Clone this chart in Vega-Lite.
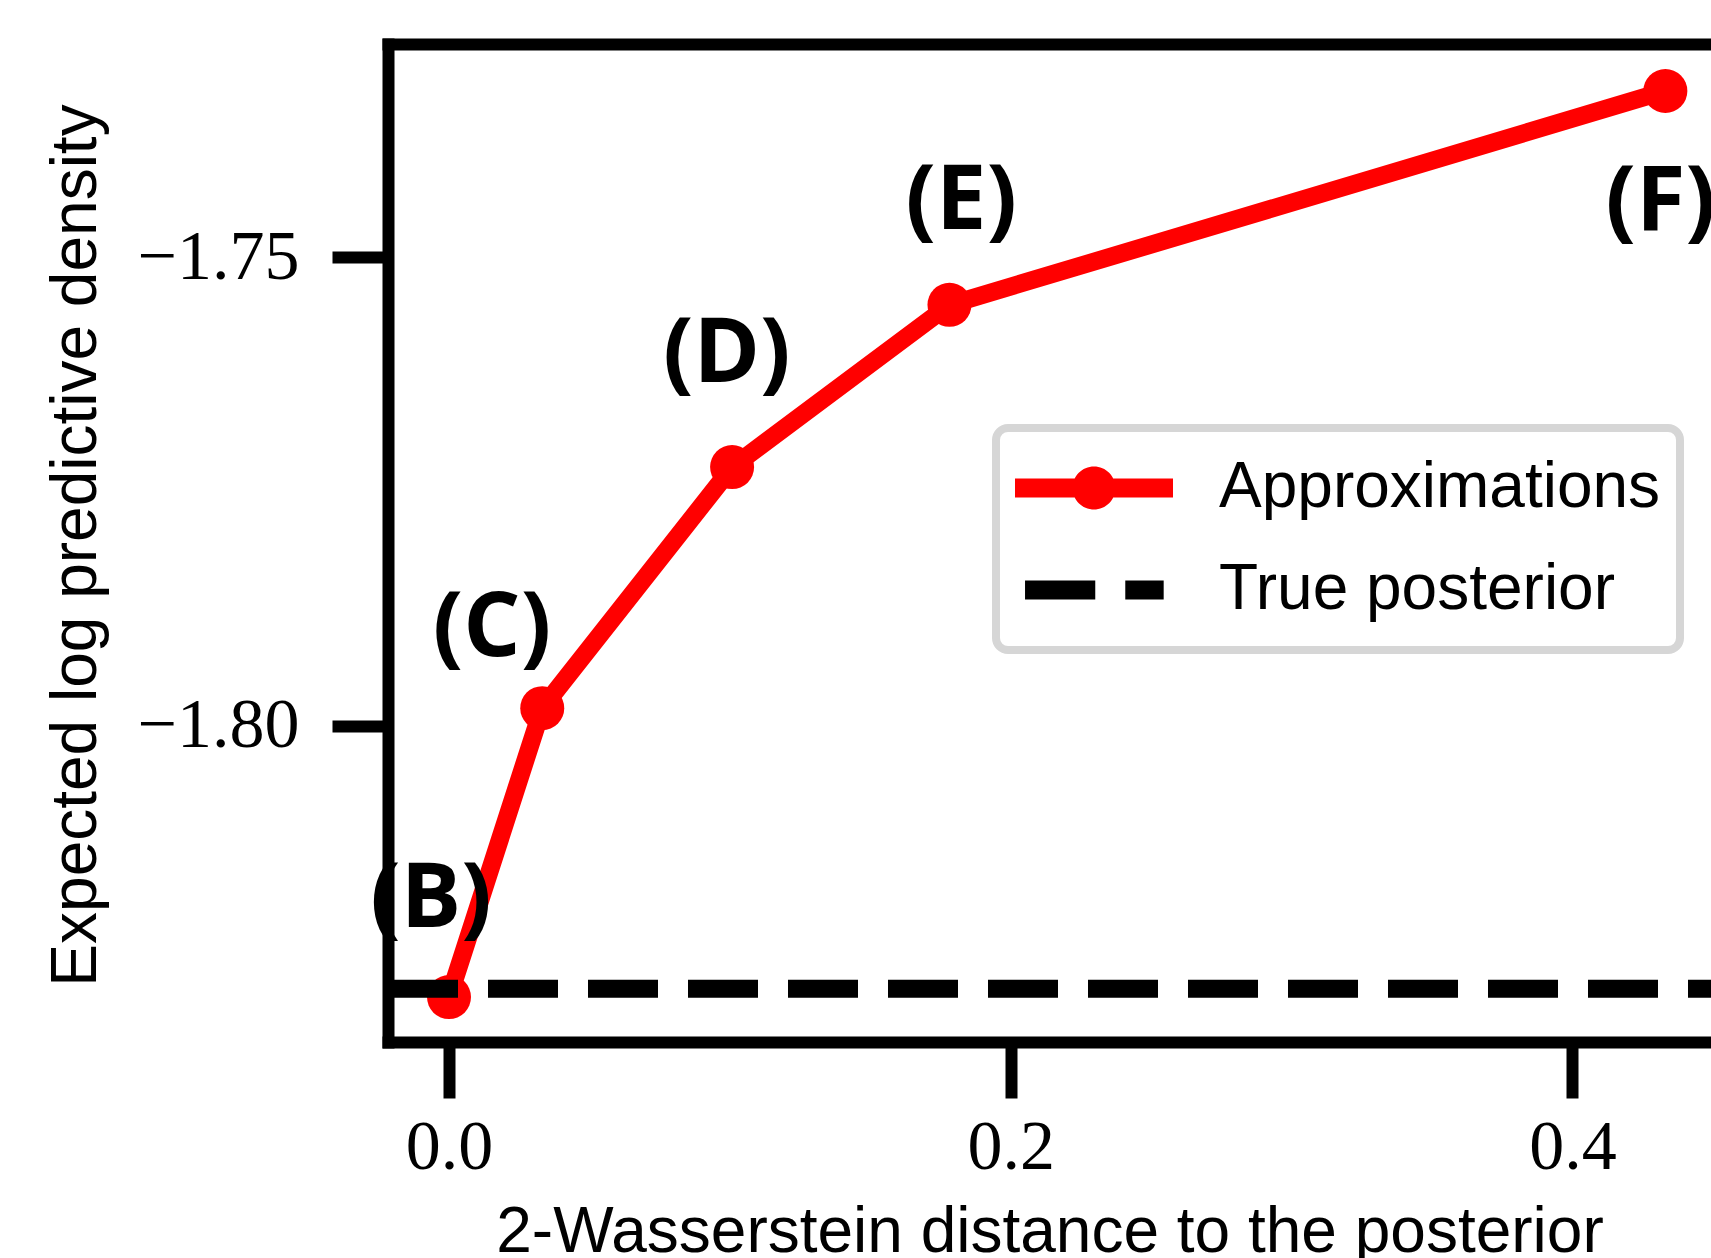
{
  "$schema": "https://vega.github.io/schema/vega-lite/v6.json",
  "autosize": {"type": "none"},
  "padding": {"left": 388, "top": 44, "right": 0, "bottom": 216},
  "width": 1323,
  "height": 998,
  "background": "white",
  "config": {"view": {"stroke": null}, "axis": {"grid": false}, "legend": {"strokeWidth": 8}},
  "resolve": {"axis": {"x": "independent", "y": "independent"}},
  "datasets": {
    "approx": [
      {"series": "Approximations", "label": "(B)", "w2": 0.0, "elpd": -1.8289, "label_w2": -0.0064, "label_elpd": -1.8186},
      {"series": "Approximations", "label": "(C)", "w2": 0.0332, "elpd": -1.7981, "label_w2": 0.0153, "label_elpd": -1.7897},
      {"series": "Approximations", "label": "(D)", "w2": 0.1008, "elpd": -1.7724, "label_w2": 0.0989, "label_elpd": -1.7604},
      {"series": "Approximations", "label": "(E)", "w2": 0.1782, "elpd": -1.7551, "label_w2": 0.1824, "label_elpd": -1.7441},
      {"series": "Approximations", "label": "(F)", "w2": 0.4331, "elpd": -1.7323, "label_w2": 0.4314, "label_elpd": -1.7442}
    ],
    "truth": [
      {"series": "True posterior", "elpd": -1.828}
    ],
    "series": [
      {"series": "Approximations"},
      {"series": "True posterior"}
    ]
  },
  "layer": [
    {
      "data": {"name": "approx"},
      "mark": {"type": "line", "color": "#ff0000", "strokeWidth": 18, "strokeJoin": "round", "strokeCap": "butt"},
      "encoding": {
        "x": {
          "field": "w2", "type": "quantitative",
          "scale": {"domain": [-0.02172, 0.44935], "nice": false, "zero": false},
          "axis": {
            "orient": "bottom", "values": [0, 0.2, 0.4], "format": ".1f",
            "domain": true, "domainWidth": 12, "domainColor": "black", "domainCap": "square",
            "ticks": true, "tickSize": 56, "tickWidth": 12, "tickColor": "black",
            "labelFont": "Liberation Serif", "labelFontSize": 70, "labelColor": "black", "labelPadding": 15,
            "labelFlush": false, "labelOverlap": false, "labelBound": false,
            "title": "2-Wasserstein distance to the posterior",
            "titleFont": "Liberation Sans", "titleFontSize": 64, "titleFontWeight": "normal", "titleColor": "black",
            "titlePadding": 18, "zindex": 1
          }
        },
        "y": {
          "field": "elpd", "type": "quantitative",
          "scale": {"domain": [-1.833689, -1.727292], "nice": false, "zero": false},
          "axis": {
            "orient": "left", "values": [-1.8, -1.75], "format": ".2f",
            "domain": true, "domainWidth": 12, "domainColor": "black", "domainCap": "square",
            "ticks": true, "tickSize": 56, "tickWidth": 12, "tickColor": "black",
            "labelFont": "Liberation Serif", "labelFontSize": 70, "labelColor": "black", "labelPadding": 33,
            "labelFlush": false, "labelOverlap": false, "labelBound": false,
            "title": "Expected log predictive density",
            "titleFont": "Liberation Sans", "titleFontSize": 64, "titleFontWeight": "normal", "titleColor": "black",
            "titleX": -280, "titleY": 501, "titleAngle": -90, "titleBaseline": "bottom", "titleAlign": "center", "zindex": 1
          }
        }
      }
    },
    {
      "data": {"name": "approx"},
      "mark": {"type": "circle", "color": "#ff0000", "opacity": 1, "size": 1936},
      "encoding": {
        "x": {"field": "w2", "type": "quantitative", "scale": {"domain": [-0.02172, 0.44935], "nice": false, "zero": false}, "axis": null},
        "y": {"field": "elpd", "type": "quantitative", "scale": {"domain": [-1.833689, -1.727292], "nice": false, "zero": false}, "axis": null}
      }
    },
    {
      "data": {"name": "truth"},
      "mark": {"type": "rule", "color": "black", "strokeWidth": 18, "strokeDash": [70, 30], "strokeDashOffset": 47, "strokeCap": "butt"},
      "encoding": {
        "y": {"field": "elpd", "type": "quantitative", "scale": {"domain": [-1.833689, -1.727292], "nice": false, "zero": false}, "axis": null}
      }
    },
    {
      "data": {"name": "approx"},
      "mark": {"type": "text", "font": "Open Sans", "fontWeight": "bold", "fontSize": 90, "align": "center", "baseline": "middle", "color": "black"},
      "encoding": {
        "x": {
          "field": "label_w2", "type": "quantitative",
          "scale": {"domain": [-0.02172, 0.44935], "nice": false, "zero": false},
          "axis": {"orient": "top", "domain": true, "domainWidth": 12, "domainColor": "black", "domainCap": "square", "ticks": false, "labels": false, "title": null, "grid": false, "zindex": 1}
        },
        "y": {"field": "label_elpd", "type": "quantitative", "scale": {"domain": [-1.833689, -1.727292], "nice": false, "zero": false}, "axis": null},
        "text": {"field": "label"}
      }
    },
    {
      "data": {"name": "series"},
      "mark": {"type": "point", "filled": true, "size": 0},
      "encoding": {
        "color": {
          "field": "series", "type": "nominal",
          "scale": {"domain": ["Approximations", "True posterior"], "range": ["#ff0000", "#000000"]},
          "legend": {
            "orient": "none", "legendX": 608, "legendY": 384, "title": null,
            "padding": 19, "clipHeight": 82, "rowPadding": 20,
            "symbolSize": 24964, "symbolStrokeWidth": 0, "symbolOpacity": 1,
            "labelOffset": 46, "labelFont": "Liberation Sans", "labelFontSize": 64, "labelColor": "black", "labelLimit": 0,
            "strokeColor": "#d6d6d6", "cornerRadius": 12, "fillColor": "white"
          }
        },
        "shape": {
          "field": "series", "type": "nominal",
          "scale": {
            "domain": ["Approximations", "True posterior"],
            "range": [
              "M-1,-0.12H1V0.12H-1Z M-0.272,0A0.272,0.272 0 1,1 0.272,0A0.272,0.272 0 1,1 -0.272,0Z",
              "M-0.873,-0.12H0.016V0.12H-0.873Z M0.396,-0.12H0.882V0.12H0.396Z"
            ]
          },
          "legend": {
            "orient": "none", "legendX": 608, "legendY": 384, "title": null,
            "padding": 19, "clipHeight": 82, "rowPadding": 20,
            "symbolSize": 24964, "symbolStrokeWidth": 0, "symbolOpacity": 1,
            "labelOffset": 46, "labelFont": "Liberation Sans", "labelFontSize": 64, "labelColor": "black", "labelLimit": 0,
            "strokeColor": "#d6d6d6", "cornerRadius": 12, "fillColor": "white"
          }
        }
      }
    }
  ]
}
